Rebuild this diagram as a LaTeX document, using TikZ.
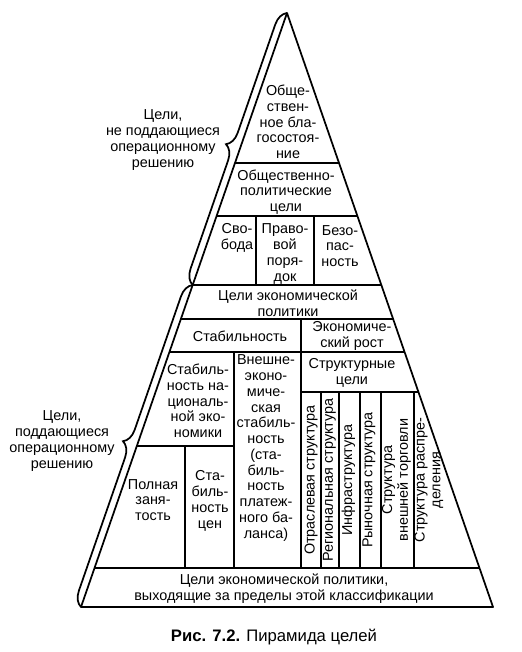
\documentclass[tikz,border=0pt]{standalone}
\usepackage{fontspec}
\setmainfont{Liberation Sans}
\usetikzlibrary{decorations.pathreplacing}

\begin{document}
\begin{tikzpicture}[x=0.75pt, y=-0.75pt, line width=1.3pt,
        cell/.style={align=center, inner sep=0pt, font=\fontsize{10.8}{11.8}\selectfont},
        vcell/.style={cell, rotate=90},
        goalbrace/.style={decoration={brace, amplitude=11pt}, decorate}]

        \useasboundingbox (0,0) rectangle (521,652);

        % horizontal run of a side per unit of height (apex at 287,13)
        \def \slope {0.3468}

        \coordinate (apex) at (287,13);
        \coordinate (baseleft) at (81,607);
        \coordinate (baseright) at (493,607);
        \coordinate (split) at ({287-\slope*(285-13)}, 285);

        % the pyramid itself
        \draw[line join=round] (apex) -- (baseright) -- (baseleft) -- cycle;

        % floors that run from side to side, their ends lie on the slanted sides
        \foreach \y in {163, 216, 285, 319, 352, 568} {
            \draw ({287-\slope*(\y-13)}, \y) -- ({287+\slope*(\y-13)}, \y);
        }

        % floors that only span part of a level
        \draw (301,392) -- ({287+\slope*(392-13)}, 392);
        \draw ({287-\slope*(446-13)}, 446) -- (234,446);

        % walls: x / upper end / lower end
        \foreach \x / \ytop / \ybot in {
                        256/216/285, 314/216/285, 301/319/568, 234/352/568,
                        185/446/568, 321/392/568, 339/392/568, 360/392/568,
                        381/392/568, 414/392/568} {
            \draw (\x,\ytop) -- (\x,\ybot);
        }

        % the two braces on the left side (drawn upwards so they bulge outwards)
        \draw[goalbrace] (split) -- (apex);
        \draw[goalbrace] (baseleft) -- (split);

        \node[cell] (unsolvable) at (163,140) {Цели,\\не поддающиеся\\операционному\\решению};
        \node[cell] (solvable) at (62,441) {Цели,\\поддающиеся\\операционному\\решению};

        % upper part
        \node[cell] (welfare) at (288,122) {Обще-\\ствен-\\ное бла-\\госостоя-\\ние};
        \node[cell] (sociopol) at (286,192) {Общественно-\\политические\\цели};
        \node[cell] (freedom) at (237,238) {Сво-\\бода};
        \node[cell] (order) at (285,254) {Право-\\вой\\поря-\\док};
        \node[cell] (security) at (340,246) {Безо-\\пас-\\ность};

        % lower part
        \node[cell] (econpol) at (288,303) {Цели экономической\\политики};
        \node[cell] (stability) at (240,336) {Стабильность};
        \node[cell] (growth) at (352,336) {Экономиче-\\ский рост};
        \node[cell] (structure) at (352,373) {Структурные\\цели};
        \node[cell] (natstab) at (198,401) {Стабиль-\\ность на-\\циональ-\\ной эко-\\номики};
        \node[cell] (extstab) at (266,448) {Внешне-\\эконо-\\миче-\\ская\\стабиль-\\ность\\(ста-\\биль-\\ность\\платеж-\\ного ба-\\ланса)};
        \node[cell] (employment) at (153,500) {Полная\\заня-\\тость};
        \node[cell] (prices) at (210,501) {Ста-\\биль-\\ность\\цен};

        % structural goals, written upwards
        \foreach \x / \name / \txt in {
                        311/branch/{Отраслевая структура},
                        329.5/regional/{Региональная структура},
                        348.5/infra/{Инфраструктура},
                        369/market/{Рыночная структура},
                        396.5/trade/{Структура\\внешней торговли},
                        429/distrib/{Структура распре-\\деления}} {
            \node[vcell] (\name) at (\x,480) {\txt};
        }

        \node[cell] (beyond) at (284,589) {Цели экономической политики,\\выходящие за пределы этой классификации};

        \node[inner sep=0pt, font=\fontsize{12.5}{14}\selectfont] (caption) at (274,637)
            {\textbf{Рис. 7.2.} Пирамида целей};
    \end{tikzpicture}
\end{document}
